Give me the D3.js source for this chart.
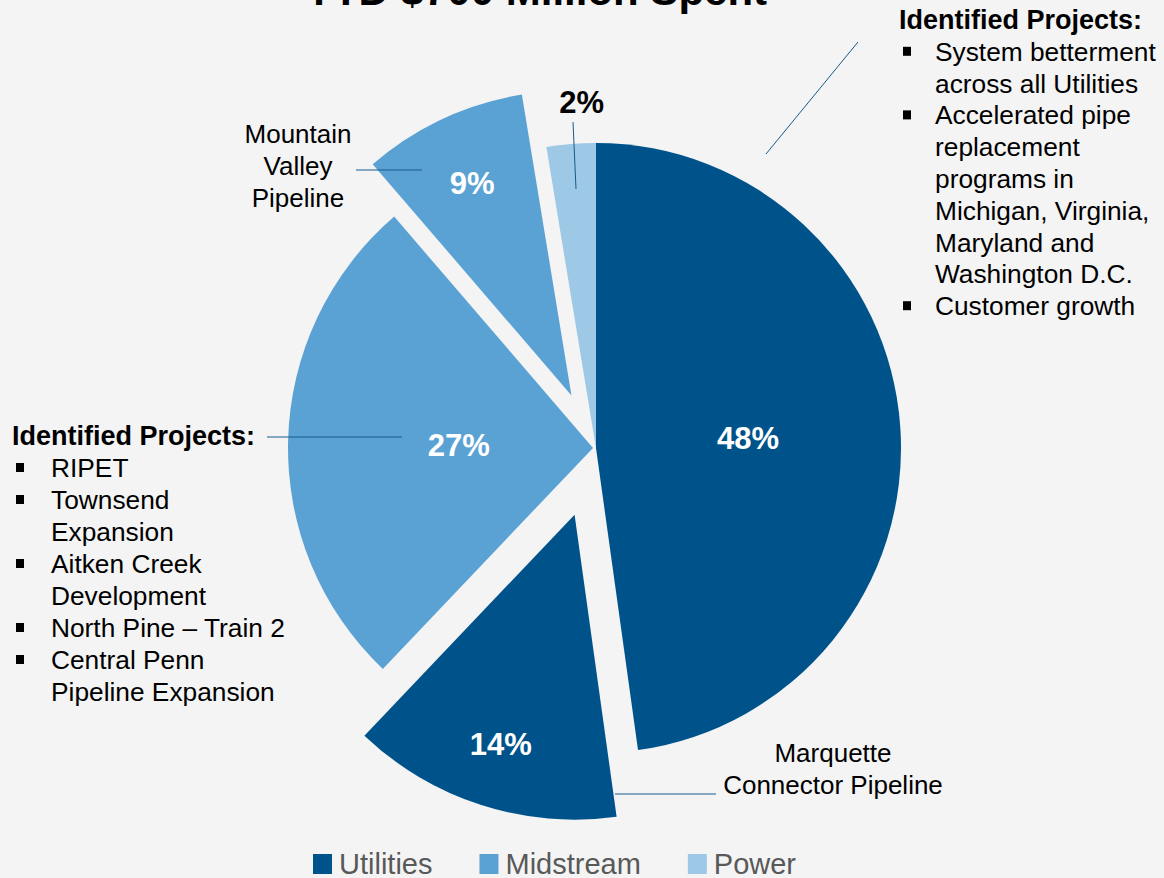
<!DOCTYPE html>
<html>
<head>
<meta charset="utf-8">
<script src="https://cdn.jsdelivr.net/npm/d3@7"></script>
<style>
  html, body { margin: 0; padding: 0; background: #f4f4f4; }
  svg { display: block; font-family: "Liberation Sans", Arial, sans-serif; }
</style>
</head>
<body>
<div id="chart"></div>
<script>
// slices, clockwise from 12 o'clock
let sliceNames = ['Utilities', 'Marquette Connector Pipeline', 'Identified Midstream Projects', 'Mountain Valley Pipeline', 'Power']
let sliceValues = [47.8, 14.3, 26.6, 8.7, 2.6]
let sliceLabels = ['48%', '14%', '27%', '9%', '2%']
let sliceGroups = ['Utilities', 'Utilities', 'Midstream', 'Midstream', 'Power']

let categories = ['Utilities', 'Midstream', 'Power']
let categoryColors = ['#00538a', '#5ba2d4', '#9dc8e6']

let leftProjects = [['RIPET'], ['Townsend', 'Expansion'], ['Aitken Creek', 'Development'], ['North Pine \u2013 Train 2'], ['Central Penn', 'Pipeline Expansion']]
let rightProjects = [['System betterment', 'across all Utilities'], ['Accelerated pipe', 'replacement', 'programs in', 'Michigan, Virginia,', 'Maryland and', 'Washington D.C.'], ['Customer growth']]

let title = 'YTD $700 Million Spent'

let width = 1164, height = 878
let cx = 596, cy = 448, radius = 305
let explode = [0, 70, 3, 58, 0]
let labelPos = [0.5, 0.79, 0.44, 0.77, 1.14]
let labelNudge = [0, 0, 0, 0, 14]

let color = d3.scaleOrdinal().domain(categories).range(categoryColors)

let svg = d3.select('#chart')
  .append('svg')
  .attr('width', width)
  .attr('height', height)

svg.append('rect')
  .attr('width', width)
  .attr('height', height)
  .attr('fill', '#f4f4f4')

svg.append('text')
  .attr('x', 536)
  .attr('y', 5)
  .attr('text-anchor', 'middle')
  .attr('font-size', 42)
  .attr('font-weight', 'bold')
  .attr('fill', '#000')
  .text(title)

let pie = d3.pie().sort(null).value(d => d)
let arcs = pie(sliceValues)
let arc = d3.arc().innerRadius(0).outerRadius(radius)

function polar(a, r) {
  return [Math.sin(a) * r, -Math.cos(a) * r]
}

let pieG = svg.append('g').attr('transform', `translate(${cx},${cy})`)

pieG.selectAll('path')
  .data(arcs)
  .enter()
  .append('path')
  .attr('d', arc)
  .attr('fill', (d, i) => color(sliceGroups[i]))
  .attr('transform', (d, i) => {
    let p = polar((d.startAngle + d.endAngle) / 2, explode[i])
    return `translate(${p[0]},${p[1]})`
  })

pieG.selectAll('text.pct')
  .data(arcs)
  .enter()
  .append('text')
  .attr('class', 'pct')
  .attr('x', (d, i) => polar((d.startAngle + d.endAngle) / 2, explode[i] + labelPos[i] * radius)[0] + labelNudge[i])
  .attr('y', (d, i) => polar((d.startAngle + d.endAngle) / 2, explode[i] + labelPos[i] * radius)[1])
  .attr('dy', '0.36em')
  .attr('text-anchor', 'middle')
  .attr('font-size', 31)
  .attr('font-weight', 'bold')
  .attr('fill', (d, i) => i === 4 ? '#000' : '#fff')
  .text((d, i) => sliceLabels[i])

// leader lines
let leaders = [
  [[858, 42], [766, 154]],
  [[356, 170], [422, 170]],
  [[573, 122], [576, 189]],
  [[267, 437], [402, 437]],
  [[615, 794], [716, 794]]
]
svg.append('g')
  .selectAll('line')
  .data(leaders)
  .enter()
  .append('line')
  .attr('x1', d => d[0][0]).attr('y1', d => d[0][1])
  .attr('x2', d => d[1][0]).attr('y2', d => d[1][1])
  .attr('stroke', '#185a8c')
  .attr('stroke-width', 1)

function multiline(lines, x, y, anchor) {
  let t = svg.append('text')
    .attr('x', x).attr('y', y)
    .attr('text-anchor', anchor)
    .attr('font-size', 26)
    .attr('fill', '#000')
  lines.forEach((s, i) => {
    t.append('tspan').attr('x', x).attr('y', y + i * 32).text(s)
  })
}

multiline(['Mountain', 'Valley', 'Pipeline'], 298, 143, 'middle')
multiline(['Marquette', 'Connector Pipeline'], 833, 762, 'middle')

function projectList(items, x, y, textX, step) {
  svg.append('text')
    .attr('x', x).attr('y', y)
    .attr('font-size', 27)
    .attr('font-weight', 'bold')
    .attr('fill', '#000')
    .text('Identified Projects:')
  let row = 1
  items.forEach(lines => {
    svg.append('rect')
      .attr('x', x + 4).attr('y', y + row * step - 14)
      .attr('width', 8).attr('height', 9)
      .attr('fill', '#000')
    lines.forEach(s => {
      svg.append('text')
        .attr('x', textX).attr('y', y + row * step)
        .attr('font-size', 26.3)
        .attr('fill', '#000')
        .text(s)
      row++
    })
  })
}

projectList(leftProjects, 12, 445, 51, 32)
projectList(rightProjects, 899, 29, 935, 31.8)

// legend
let legend = svg.append('g')
let lx = 313
categories.forEach((c, i) => {
  legend.append('rect')
    .attr('x', lx).attr('y', 854)
    .attr('width', 19).attr('height', 20)
    .attr('fill', color(c))
  let t = legend.append('text')
    .attr('x', lx + 26).attr('y', 874)
    .attr('font-size', 29)
    .attr('fill', '#595959')
    .text(c)
  lx += 26 + t.node().getComputedTextLength() + 47
})
</script>
</body>
</html>
